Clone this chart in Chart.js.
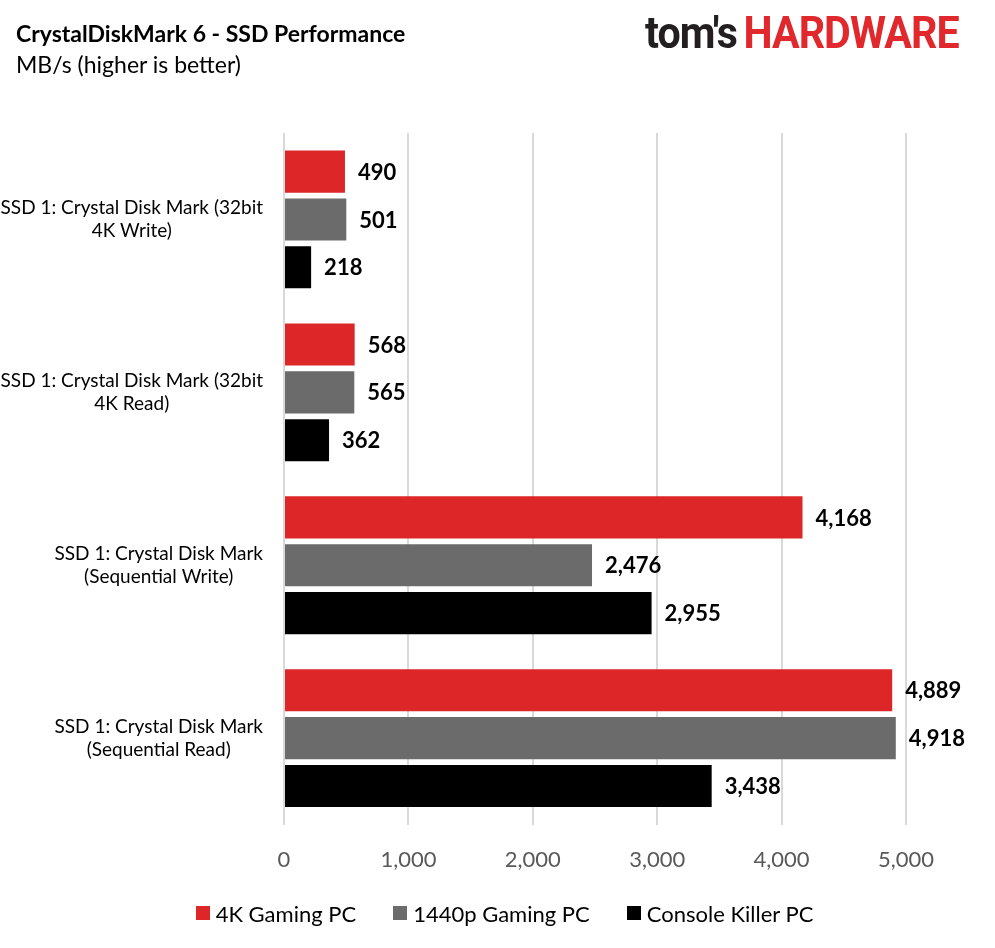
<!DOCTYPE html>
<html>
<head>
<meta charset="utf-8">
<script src="https://cdn.jsdelivr.net/npm/chart.js@4.4.0/dist/chart.umd.min.js"></script>
<style>
  body { margin:0; background:#fff; }
  #wrap { position:relative; width:995px; height:948px; }
  #chart { position:absolute; left:0; top:0; }
  .title { position:absolute; left:16px; top:19px; font:bold 23px Lato, sans-serif; color:#000; }
  .sub { position:absolute; left:16px; top:50px; font:23px Lato, sans-serif; color:#000; }
  .logo { position:absolute; left:645px; top:6px; font:bold 45px Roboto, sans-serif; letter-spacing:-1px; white-space:nowrap; transform:scaleX(0.915); transform-origin:left top; }
  .logo .a { color:#231f20; }
  .logo .b { color:#e0282d; margin-left:7px; }
  #legend { position:absolute; left:7px; width:995px; top:899px; height:28px; display:flex; justify-content:center; align-items:center; font:22px Lato, sans-serif; color:#000; }
  #legend .item { display:flex; align-items:center; margin:0 18.5px; white-space:nowrap; }
  #legend .box { width:14px; height:14px; margin-right:6px; }
</style>
</head>
<body>
<div id="wrap">
  <canvas id="chart" width="995" height="948"></canvas>
  <div class="title">CrystalDiskMark 6 - SSD Performance</div>
  <div class="sub">MB/s (higher is better)</div>
  <div class="logo"><span class="a">tom's</span><span class="b">HARDWARE</span></div>
  <div id="legend"></div>
</div>
<script>
var categories = [
  ["SSD 1: Crystal Disk Mark (32bit", "4K Write)"],
  ["SSD 1: Crystal Disk Mark (32bit", "4K Read)"],
  ["SSD 1: Crystal Disk Mark", "(Sequential Write)"],
  ["SSD 1: Crystal Disk Mark", "(Sequential Read)"]
]
var seriesNames = ["4K Gaming PC", "1440p Gaming PC", "Console Killer PC"]
var gaming4k = [490, 568, 4168, 4889]
var gaming1440 = [501, 565, 2476, 4918]
var consoleKiller = [218, 362, 2955, 3438]
var xTicks = [0, 1000, 2000, 3000, 4000, 5000]

var colors = ["#dc2628", "#6b6b6b", "#000000"]

function fmt(v){ return v.toLocaleString("en-US") }

// value labels right of each bar
var valueLabels = {
  id: "valueLabels",
  afterDatasetsDraw: function(chart){
    var ctx = chart.ctx
    ctx.save()
    ctx.font = "bold 22px Lato, sans-serif"
    ctx.fillStyle = "#000"
    ctx.textAlign = "left"
    ctx.textBaseline = "middle"
    chart.data.datasets.forEach(function(ds, i){
      chart.getDatasetMeta(i).data.forEach(function(bar, j){
        ctx.fillText(fmt(ds.data[j]), bar.x + 13, bar.y + 1)
      })
    })
    ctx.restore()
  }
}

// category labels: each block centred on itself, right edge near the axis
var catLabels = {
  id: "catLabels",
  afterDraw: function(chart){
    var ctx = chart.ctx
    var y = chart.scales.y
    ctx.save()
    ctx.font = "19px Lato, sans-serif"
    ctx.fillStyle = "#000"
    ctx.textAlign = "center"
    ctx.textBaseline = "middle"
    chart.data.labels.forEach(function(lines, i){
      var w = 0
      lines.forEach(function(l){ w = Math.max(w, ctx.measureText(l).width) })
      var cx = y.right - 21 - w / 2
      var cy = y.getPixelForValue(i)
      var lh = 23
      lines.forEach(function(l, k){
        ctx.fillText(l, cx, cy + (k - (lines.length - 1) / 2) * lh)
      })
    })
    ctx.restore()
  }
}

var ctx = document.getElementById("chart").getContext("2d")
var chart = new Chart(ctx, {
  type: "bar",
  data: {
    labels: categories,
    datasets: [
      { label: seriesNames[0], data: gaming4k, backgroundColor: colors[0] },
      { label: seriesNames[1], data: gaming1440, backgroundColor: colors[1] },
      { label: seriesNames[2], data: consoleKiller, backgroundColor: colors[2] }
    ]
  },
  options: {
    indexAxis: "y",
    responsive: false,
    animation: false,
    categoryPercentage: 0.83,
    barPercentage: 0.88,
    layout: { padding: { top: 133, right: 89, bottom: 53, left: 0 } },
    scales: {
      x: {
        min: 0,
        max: 5000,
        afterBuildTicks: function(scale){ scale.ticks = xTicks.map(function(v){ return { value: v } }) },
        grid: { color: "#d9d9d9", lineWidth: 2, drawTicks: false },
        border: { display: false },
        ticks: {
          padding: 22,
          color: "#595959",
          font: { family: "Lato", size: 22 },
          callback: function(v){ return fmt(v) }
        }
      },
      y: {
        grid: { display: false },
        border: { display: false },
        ticks: { display: false },
        afterFit: function(scale){ scale.width = 284 }
      }
    },
    plugins: {
      legend: { display: false },
      tooltip: { enabled: false }
    }
  },
  plugins: [valueLabels, catLabels]
})

// html legend from the chart's datasets
var legendHtml = ""
chart.data.datasets.forEach(function(ds){
  legendHtml += '<span class="item"><span class="box" style="background:' + ds.backgroundColor + '"></span>' + ds.label + '</span>'
})
document.getElementById("legend").innerHTML = legendHtml
</script>
</body>
</html>
